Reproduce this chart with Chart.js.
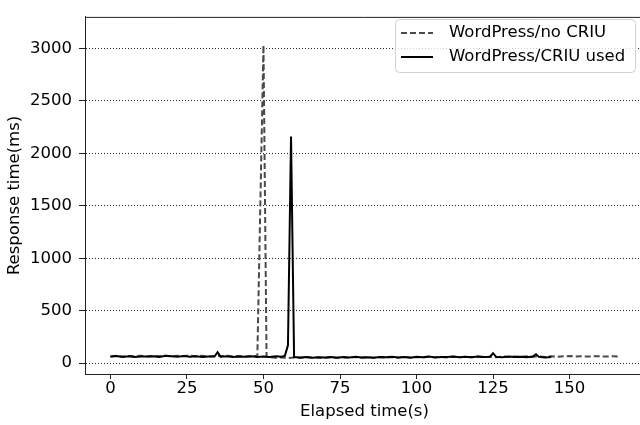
<!DOCTYPE html>
<html>
<head>
<meta charset="utf-8">
<script src="https://cdn.jsdelivr.net/npm/chart.js@4"></script>
<style>
  html, body { margin: 0; padding: 0; background: #fff; }
  #wrap { width: 640px; height: 425px; overflow: hidden; }
</style>
</head>
<body>
<div id="wrap"><canvas id="chart" width="650" height="425"></canvas></div>
<script>
// Response time samples
const SERIES_NAMES = ["WordPress/no CRIU", "WordPress/CRIU used"];

const T_NO_CRIU = [0,2,4,6,8,10,12,14,16,18,20,22,24,26,28,30,32,34,36,38,40,42,44,46,48,50,51,
  52,54,56,58,60,62,64,66,68,70,72,74,76,78,80,82,84,86,88,90,92,94,96,98,100,102,104,106,108,110,
  112,114,116,118,120,122,124,126,128,130,132,134,136,138,140,142,144,146,148,150,152,154,156,158,160,162,164,166];
const V_NO_CRIU = [65,70,63,68,66,72,64,69,67,71,65,70,68,73,66,70,64,69,67,72,65,68,63,66,70,3030,62,
  58,52,55,50,54,49,56,51,55,50,57,52,56,51,58,53,57,52,59,54,58,53,60,55,59,54,61,56,60,55,
  62,57,61,56,63,58,62,57,64,59,63,60,65,61,64,60,66,62,65,68,64,66,63,67,65,64,66,63];

const T_CRIU = [0,2,4,6,8,10,12,14,16,18,20,22,24,26,28,30,32,34,35,36,38,40,42,44,46,48,50,52,54,56,
  57,58,59,60,62,64,66,68,70,72,74,76,78,80,82,84,86,88,90,92,94,96,98,100,102,104,106,108,110,112,
  114,116,118,120,122,124,125,126,128,130,132,134,136,138,139,140,142,144];
const V_CRIU = [62,68,60,66,58,64,63,67,59,70,65,61,68,62,66,60,64,63,105,62,66,60,64,61,67,58,63,60,65,62,
  72,170,2160,58,55,60,52,57,54,59,53,58,55,61,54,57,52,60,56,62,55,58,53,61,57,63,55,60,58,64,
  56,61,57,63,59,62,95,60,57,63,58,61,56,64,85,60,55,58];

const X_TICKS = [0, 25, 50, 75, 100, 125, 150];
const Y_TICKS = [0, 500, 1000, 1500, 2000, 2500, 3000];

const FONT = "'DejaVu Sans', sans-serif";
const FONT_SIZE = 16.5;
const DASH_COLOR = "#4a4a4a";

const toPoints = (ts, vs) => ts.map((t, i) => ({ x: t, y: vs[i] }));

// matplotlib style: top spine + legend box inside the axes
const frameAndLegend = {
  id: "frameAndLegend",
  afterDraw(chart) {
    const { ctx, chartArea: a } = chart;
    ctx.save();
    ctx.strokeStyle = "#222";
    ctx.lineWidth = 1;
    ctx.beginPath();
    ctx.moveTo(a.left, a.top + 0.5);
    ctx.lineTo(a.right, a.top + 0.5);
    ctx.stroke();

    // legend
    const bx = 395.5, by = 19.5, bw = 240, bh = 53, r = 4;
    ctx.beginPath();
    ctx.roundRect(bx, by, bw, bh, r);
    ctx.fillStyle = "rgba(255,255,255,0.8)";
    ctx.fill();
    ctx.strokeStyle = "#d0d0d0";
    ctx.stroke();

    const rows = [
      { y: 33, color: DASH_COLOR, dash: [6, 3] },
      { y: 57, color: "#000", dash: [] },
    ];
    rows.forEach((row, i) => {
      ctx.beginPath();
      ctx.setLineDash(row.dash);
      ctx.strokeStyle = row.color;
      ctx.lineWidth = 2;
      ctx.moveTo(401, row.y);
      ctx.lineTo(433, row.y);
      ctx.stroke();
      ctx.setLineDash([]);
      ctx.fillStyle = "#000";
      ctx.font = FONT_SIZE + "px " + FONT;
      ctx.textBaseline = "middle";
      ctx.fillText(SERIES_NAMES[i], 449, row.y);
    });
    ctx.restore();
  }
};

new Chart(document.getElementById("chart"), {
  type: "line",
  data: {
    datasets: [
      {
        label: SERIES_NAMES[0],
        data: toPoints(T_NO_CRIU, V_NO_CRIU),
        borderColor: DASH_COLOR,
        borderWidth: 2,
        borderDash: [6, 3],
        pointRadius: 0,
        tension: 0,
        order: 1,
      },
      {
        label: SERIES_NAMES[1],
        data: toPoints(T_CRIU, V_CRIU),
        borderColor: "#000",
        borderWidth: 2,
        pointRadius: 0,
        tension: 0,
        order: 0,
      },
    ],
  },
  options: {
    responsive: false,
    animation: false,
    devicePixelRatio: 1,
    layout: { padding: { left: 0, top: 11, right: 6, bottom: 0 } },
    plugins: { legend: { display: false }, tooltip: { enabled: false } },
    scales: {
      x: {
        type: "linear",
        min: -8.3,
        max: 174.3,
        afterBuildTicks: s => { s.ticks = X_TICKS.map(v => ({ value: v })); },
        afterFit: s => { s.height = 51; },
        grid: { drawOnChartArea: false, drawTicks: true, tickLength: 5, tickColor: "#222", tickWidth: 1 },
        border: { color: "#222", width: 1 },
        ticks: { color: "#000", font: { family: FONT, size: FONT_SIZE }, padding: 0, maxRotation: 0, callback: v => String(v) },
        title: { display: true, text: "Elapsed time(s)", color: "#000", font: { family: FONT, size: FONT_SIZE }, padding: { top: 0, bottom: 3 } },
      },
      y: {
        type: "linear",
        min: -103,
        max: 3300,
        afterBuildTicks: s => { s.ticks = Y_TICKS.map(v => ({ value: v })); },
        afterFit: s => { s.width = 85; },
        grid: { color: "rgba(0,0,0,0.85)", lineWidth: 1, drawTicks: true, tickLength: 6, tickColor: "#222", tickWidth: 1, tickBorderDash: [] },
        border: { color: "#222", width: 1, dash: [1, 2] },
        ticks: { color: "#000", font: { family: FONT, size: FONT_SIZE }, padding: 7, callback: v => String(v) },
        title: { display: true, text: "Response time(ms)", color: "#000", font: { family: FONT, size: FONT_SIZE }, padding: { top: 5, bottom: 0 } },
      },
    },
  },
  plugins: [frameAndLegend],
});
</script>
</body>
</html>
